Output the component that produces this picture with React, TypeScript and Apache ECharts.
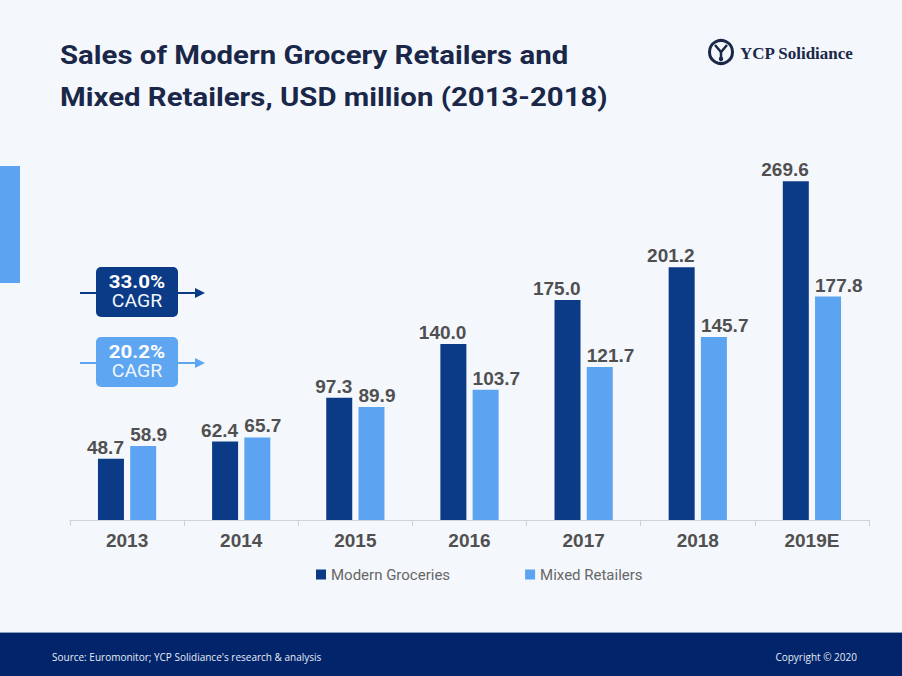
import React, { useEffect, useRef } from "react";
import * as echarts from "echarts";

const categories = ["2013", "2014", "2015", "2016", "2017", "2018", "2019E"];
const modernGroceries = [48.7, 62.4, 97.3, 140.0, 175.0, 201.2, 269.6];
const mixedRetailers = [58.9, 65.7, 89.9, 103.7, 121.7, 145.7, 177.8];
const seriesNames = ["Modern Groceries", "Mixed Retailers"];
const titleLines = ["Sales of Modern Grocery Retailers and", "Mixed Retailers, USD million (2013-2018)"];
const cagrLabels = ["33.0%", "20.2%"];

const DARK = "#0b3a86";
const LIGHT = "#5ca4f1";
const NAVY = "#1a2748";
const BAR_W = 26;

export default function App() {
  const ref = useRef<HTMLDivElement>(null);
  useEffect(() => {
    const chart = echarts.init(ref.current!, null, { renderer: "svg" });
    const cagrBox = (y: number, color: string, pct: string) => [
      { type: "line", shape: { x1: 80, y1: y + 26, x2: 198, y2: y + 26 }, style: { stroke: color, lineWidth: 2 } },
      { type: "polygon", shape: { points: [[195, y + 21], [205, y + 26], [195, y + 31]] }, style: { fill: color } },
      { type: "rect", shape: { x: 96, y: y, width: 82, height: 50, r: 5 }, style: { fill: color } },
      {
        type: "text", x: 137, y: y + 15, scaleX: 1.08,
        style: { text: pct, fill: "#fff", font: "bold 19px Roboto", align: "center", verticalAlign: "middle" },
      },
      {
        type: "text", x: 137, y: y + 34, scaleX: 1.08,
        style: { text: "CAGR", fill: "#f2f6fc", font: "18px Roboto", align: "center", verticalAlign: "middle" },
      },
    ];
    const labelBase = {
      show: true, position: "top", distance: 2, color: "#505050", fontSize: 19, fontWeight: "bold",
      fontFamily: "'Liberation Sans', Arial, sans-serif", formatter: (p: any) => Number(p.value).toFixed(1),
    };
    chart.setOption({
      animation: false,
      backgroundColor: "#f4f8fd",
      grid: { left: 70, right: 33, top: 143, bottom: 156 },
      legend: {
        data: seriesNames,
        top: 562,
        left: 311,
        itemWidth: 10,
        itemHeight: 10,
        itemGap: 75,
        icon: "rect",
        textStyle: { color: "#666", fontSize: 15, fontFamily: "Roboto" },
      },
      xAxis: {
        type: "category",
        data: categories,
        axisLine: { lineStyle: { color: "#cfd3d8" } },
        axisTick: { show: true, length: 6, lineStyle: { color: "#cfd3d8" } },
        axisLabel: {
          color: "#505050", fontSize: 19, fontWeight: "bold",
          fontFamily: "'Liberation Sans', Arial, sans-serif", margin: 11,
        },
      },
      yAxis: { type: "value", min: 0, max: 300, show: false, splitLine: { show: false } },
      series: [
        {
          name: seriesNames[0], type: "bar", data: modernGroceries, barWidth: BAR_W, barGap: "24%",
          itemStyle: { color: DARK },
          label: { ...labelBase, align: "right", offset: [BAR_W / 2, 0] },
        },
        {
          name: seriesNames[1], type: "bar", data: mixedRetailers, barWidth: BAR_W,
          itemStyle: { color: LIGHT },
          label: { ...labelBase, align: "left", offset: [-BAR_W / 2, 0] },
        },
      ],
      graphic: [
        {
          type: "text", x: 60, y: 55, scaleX: 1.13,
          style: { text: titleLines[0], fill: NAVY, font: "bold 26px Roboto", verticalAlign: "middle" },
        },
        {
          type: "text", x: 60, y: 97, scaleX: 1.13,
          style: { text: titleLines[1], fill: NAVY, font: "bold 26px Roboto", verticalAlign: "middle" },
        },
        { type: "circle", shape: { cx: 721, cy: 52, r: 11.5 }, style: { fill: "none", stroke: NAVY, lineWidth: 3 } },
        { type: "polyline", shape: { points: [[715, 45], [721, 52], [727, 45]] }, style: { fill: "none", stroke: NAVY, lineWidth: 2.5 } },
        { type: "line", shape: { x1: 721, y1: 52, x2: 721, y2: 59 }, style: { stroke: NAVY, lineWidth: 2.5 } },
        { type: "circle", shape: { cx: 721, cy: 59, r: 2.2 }, style: { fill: NAVY } },
        {
          type: "text", x: 740, y: 53,
          style: { text: "YCP Solidiance", fill: NAVY, font: "bold 17px 'Liberation Serif'", verticalAlign: "middle" },
        },
        { type: "rect", shape: { x: 0, y: 166, width: 20, height: 117 }, style: { fill: LIGHT } },
        ...cagrBox(267, DARK, cagrLabels[0]),
        ...cagrBox(337, "#5ea6f2", cagrLabels[1]),
        { type: "rect", shape: { x: 0, y: 632, width: 902, height: 44 }, style: { fill: "#02246a" } },
        { type: "line", shape: { x1: 0, y1: 632.5, x2: 902, y2: 632.5 }, style: { stroke: "#8a9cc0", lineWidth: 1 } },
        {
          type: "text", x: 52, y: 657,
          style: { text: "Source: Euromonitor; YCP Solidiance's research & analysis", fill: "#e6ecf5", font: "10px 'Open Sans'", verticalAlign: "middle" },
        },
        {
          type: "text", x: 857, y: 657,
          style: { text: "Copyright © 2020", fill: "#e6ecf5", font: "10px 'Open Sans'", align: "right", verticalAlign: "middle" },
        },
      ],
    });
    return () => chart.dispose();
  }, []);
  return <div ref={ref} style={{ position: "fixed", left: 0, top: 0, width: 902, height: 676 }} />;
}
